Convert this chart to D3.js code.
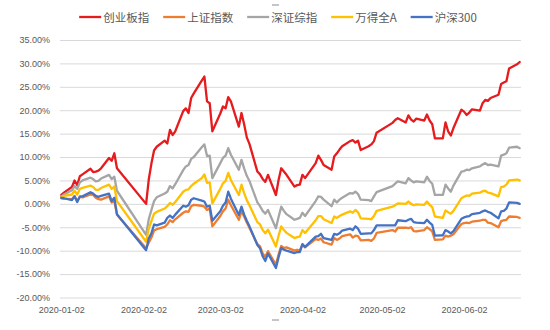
<!DOCTYPE html>
<html>
<head>
<meta charset="utf-8">
<script src="https://cdn.jsdelivr.net/npm/d3@7"></script>
<style>
  html, body { margin: 0; padding: 0; background: #ffffff; }
  svg { display: block; }
</style>
</head>
<body>
<svg id="chart" width="550" height="330"></svg>
<script>
// ---------- DATA ----------
const tradeDates = [
  "2020-01-02","2020-01-03","2020-01-06","2020-01-07","2020-01-08","2020-01-09","2020-01-10","2020-01-13","2020-01-14","2020-01-15","2020-01-16","2020-01-17","2020-01-20","2020-01-21","2020-01-22","2020-01-23",
  "2020-02-03","2020-02-04","2020-02-05","2020-02-06","2020-02-07","2020-02-10","2020-02-11","2020-02-12","2020-02-13","2020-02-14","2020-02-17","2020-02-18","2020-02-19","2020-02-20","2020-02-21","2020-02-24","2020-02-25","2020-02-26","2020-02-27","2020-02-28",
  "2020-03-02","2020-03-03","2020-03-04","2020-03-05","2020-03-06","2020-03-09","2020-03-10","2020-03-11","2020-03-12","2020-03-13","2020-03-16","2020-03-17","2020-03-18","2020-03-19","2020-03-20","2020-03-23","2020-03-24","2020-03-25","2020-03-26","2020-03-27","2020-03-30","2020-03-31",
  "2020-04-01","2020-04-02","2020-04-03","2020-04-07","2020-04-08","2020-04-09","2020-04-10","2020-04-13","2020-04-14","2020-04-15","2020-04-16","2020-04-17","2020-04-20","2020-04-21","2020-04-22","2020-04-23","2020-04-24","2020-04-27","2020-04-28","2020-04-29","2020-04-30",
  "2020-05-06","2020-05-07","2020-05-08","2020-05-11","2020-05-12","2020-05-13","2020-05-14","2020-05-15","2020-05-18","2020-05-19","2020-05-20","2020-05-21","2020-05-22","2020-05-25","2020-05-26","2020-05-27","2020-05-28","2020-05-29",
  "2020-06-01","2020-06-02","2020-06-03","2020-06-04","2020-06-05","2020-06-08","2020-06-09","2020-06-10","2020-06-11","2020-06-12","2020-06-15","2020-06-16","2020-06-17","2020-06-18","2020-06-19","2020-06-22","2020-06-23"
];

// 创业板指
const chinext = [
  1.9, 2.4, 3.6, 5.0, 4.0, 5.9, 6.3, 7.5, 6.8, 6.9, 7.1, 7.6, 9.8, 9.2, 10.8, 7.6,
  0.0, 5.2, 8.6, 11.4, 12.2, 13.5, 12.9, 15.8, 14.7, 15.5, 19.8, 20.4, 19.4, 22.6, 23.6, 26.3, 27.2, 21.9, 21.5, 15.5,
  19.3, 20.8, 20.4, 22.8, 21.9, 16.5, 19.4, 17.0, 14.2, 12.8, 6.9, 6.3, 5.3, 4.7, 6.2, 1.9, 5.1, 7.6, 6.9, 6.2, 3.7, 4.0,
  4.1, 6.2, 5.5, 8.7, 10.3, 9.4, 8.3, 7.3, 10.1, 10.8, 11.6, 12.3, 13.4, 13.6, 13.1, 13.5, 11.5, 12.3, 12.7, 13.4, 15.2,
  17.3, 17.9, 18.3, 17.4, 18.9, 18.0, 17.6, 18.2, 17.8, 19.1, 17.8, 17.0, 14.0, 14.0, 17.4, 15.5, 14.6, 16.2,
  20.1, 19.7, 19.0, 19.5, 20.2, 19.9, 21.5, 22.2, 22.0, 22.6, 23.3, 25.6, 25.9, 26.2, 28.9, 29.8, 30.3
];
// 上证指数
const sse = [
  1.2, 1.1, 1.0, 1.7, 0.6, 1.5, 1.4, 2.0, 1.9, 1.3, 1.0, 0.9, 1.6, 0.3, 0.6, -2.3,
  -9.5, -8.3, -7.2, -5.7, -5.4, -4.9, -4.4, -3.5, -3.9, -3.3, -1.9, -1.6, -1.7, -0.5, -0.2, -0.4, -0.6, -1.3, -1.0, -4.8,
  -2.6, -1.6, -1.0, 0.9, -0.3, -3.4, -1.6, -2.7, -4.0, -5.1, -8.6, -9.1, -10.6, -11.3, -10.1, -13.0, -10.8, -9.0, -9.4, -9.3, -10.0, -9.8,
  -10.0, -8.7, -9.3, -7.5, -7.7, -7.4, -8.2, -8.7, -7.3, -7.7, -7.4, -6.9, -6.5, -7.2, -6.8, -6.9, -7.8, -7.7, -7.9, -7.4, -6.2,
  -5.6, -5.9, -5.1, -5.1, -5.2, -5.0, -5.8, -5.9, -5.6, -5.0, -5.4, -5.9, -7.7, -7.6, -6.8, -7.0, -6.8, -6.5,
  -4.3, -4.1, -4.0, -4.1, -3.8, -3.6, -3.4, -3.4, -4.0, -4.1, -5.0, -3.7, -3.5, -3.4, -2.7, -2.8, -3.0
];
// 深证综指
const szComp = [
  1.6, 2.0, 2.9, 3.8, 3.2, 4.6, 5.0, 5.6, 5.3, 4.8, 4.9, 5.4, 6.2, 5.3, 5.8, 2.8,
  -6.6, -3.3, -1.3, 0.6, 1.4, 2.2, 2.6, 3.8, 3.3, 4.2, 7.2, 8.0, 8.3, 9.6, 10.0, 12.1, 12.7, 10.2, 10.3, 5.5,
  8.7, 9.8, 10.3, 11.9, 10.5, 7.3, 9.4, 7.6, 6.0, 4.9, 0.3, -0.5, -1.5, -2.1, -1.3, -5.2, -2.8, -0.6, -1.5, -2.2, -3.4, -3.2,
  -3.0, -1.9, -2.6, 0.6, 1.6, 1.5, 0.9, -0.5, 0.9, 0.3, 0.9, 1.3, 2.3, 2.2, 2.6, 2.1, 0.9, 0.8, 0.6, 1.6, 2.5,
  3.8, 4.3, 4.8, 4.4, 5.5, 5.0, 4.6, 4.8, 4.6, 5.8, 4.9, 4.3, 1.9, 1.9, 4.1, 3.3, 2.6, 3.9,
  6.9, 7.0, 7.3, 7.2, 7.6, 8.0, 8.4, 8.7, 8.3, 8.4, 8.0, 10.3, 10.5, 10.8, 12.0, 12.2, 11.9
];
// 万得全A
const windA = [
  1.5, 1.7, 2.0, 2.8, 2.0, 3.2, 3.4, 3.9, 3.6, 3.0, 3.0, 3.4, 4.1, 3.2, 3.7, 0.6,
  -8.1, -5.3, -3.7, -2.1, -1.7, -1.0, -0.5, 0.2, -0.2, 0.4, 2.6, 3.0, 3.1, 3.8, 4.3, 5.5, 6.3, 4.5, 4.6, 0.1,
  3.2, 4.4, 4.9, 6.6, 5.1, 1.9, 4.1, 2.3, 0.8, -0.3, -3.9, -4.4, -5.6, -6.3, -5.5, -9.1, -6.8, -4.8, -5.6, -6.2, -7.3, -7.1,
  -7.0, -5.6, -6.2, -3.5, -2.6, -2.6, -3.3, -4.1, -2.7, -3.0, -2.6, -2.3, -1.6, -1.9, -1.3, -1.8, -3.1, -3.2, -3.3, -2.6, -1.5,
  -0.6, -0.3, 0.1, 0.0, 0.5, 0.0, -0.3, -0.1, -0.2, 0.5, -0.2, -0.7, -2.7, -3.0, -1.4, -1.8, -2.1, -1.5,
  1.2, 1.5, 1.8, 1.7, 2.2, 2.4, 2.7, 2.8, 2.4, 2.3, 1.6, 3.6, 3.7, 4.1, 5.0, 5.2, 5.0
];
// 沪深300
const csi300 = [
  1.3, 1.2, 0.8, 1.6, 0.4, 1.6, 1.6, 2.5, 2.2, 1.7, 1.5, 1.7, 2.2, 0.6, 1.3, -2.2,
  -9.9, -7.4, -6.3, -4.4, -4.6, -4.0, -3.0, -2.5, -3.0, -2.3, -0.4, -0.6, -0.3, 0.9, 1.2, 0.7, 0.5, -0.6, -0.4, -3.6,
  -1.6, -0.4, 0.3, 2.6, 1.1, -2.4, -0.6, -2.3, -3.6, -4.8, -8.8, -9.5, -11.2, -12.2, -10.6, -13.7, -11.4, -9.4, -9.8, -10.0, -10.5, -10.3,
  -10.3, -8.6, -9.2, -7.0, -6.9, -6.4, -7.3, -7.7, -6.4, -6.6, -6.3, -5.7, -5.3, -5.6, -4.8, -5.3, -6.4, -6.3, -6.3, -5.6, -4.6,
  -4.6, -4.6, -3.5, -3.7, -3.4, -3.2, -3.9, -4.0, -4.1, -3.4, -4.0, -4.5, -6.8, -6.7, -5.6, -5.9, -6.3, -5.8,
  -3.2, -2.9, -2.7, -2.6, -2.2, -1.9, -1.6, -1.4, -1.7, -1.9, -3.1, -1.6, -1.5, -1.0, 0.3, 0.2, 0.0
];

const seriesNames = ["创业板指", "上证指数", "深证综指", "万得全A", "沪深300"];
const xTickLabels = ["2020-01-02", "2020-02-02", "2020-03-02", "2020-04-02", "2020-05-02", "2020-06-02"];
const yTickValues = [-20, -15, -10, -5, 0, 5, 10, 15, 20, 25, 30, 35];

// ---------- CHART ----------
(function () {
  const seriesValues = [chinext, sse, szComp, windA, csi300];
  const colors = ["#e61b1e", "#ed7d31", "#a5a5a5", "#ffc000", "#4472c4"];

  const parse = d3.timeParse("%Y-%m-%d");
  const dates = tradeDates.map(parse);

  const svg = d3.select("#chart");
  svg.append("rect").attr("width", 550).attr("height", 330).attr("fill", "#ffffff");

  const pLeft = 60, pRight = 521, pTop = 40, pBottom = 297.5;

  const x = d3.scaleTime()
    .domain([new Date(2020, 0, 1, 12), new Date(2020, 5, 23, 12)])
    .range([pLeft, pRight]);
  const y = d3.scaleLinear().domain([-20, 35]).range([pBottom, pTop]);

  const yAxis = d3.axisLeft(y)
    .tickValues(yTickValues)
    .tickSize(-(pRight - pLeft))
    .tickPadding(10)
    .tickFormat(d => d.toFixed(2) + "%");
  const gy = svg.append("g").attr("transform", `translate(${pLeft},0)`).call(yAxis);
  gy.select(".domain").remove();
  gy.selectAll(".tick line").attr("stroke", "#d9d9d9").attr("stroke-width", 1);
  gy.selectAll(".tick text")
    .attr("fill", "#595959")
    .attr("font-family", "'Liberation Sans', Arial, sans-serif")
    .attr("font-size", "9px");

  const xTicks = xTickLabels.map(parse);
  const xAxis = d3.axisBottom(x)
    .tickValues(xTicks)
    .tickSize(0)
    .tickPadding(9)
    .tickFormat(d3.timeFormat("%Y-%m-%d"));
  const gx = svg.append("g").attr("transform", `translate(0,${pBottom})`).call(xAxis);
  gx.select(".domain").remove();
  gx.selectAll(".tick text")
    .attr("fill", "#595959")
    .attr("font-family", "'Liberation Sans', Arial, sans-serif")
    .attr("font-size", "9px");

  const line = d3.line()
    .x((d, i) => x(dates[i]))
    .y(d => y(d));

  seriesValues.forEach((vals, k) => {
    svg.append("path")
      .datum(vals)
      .attr("fill", "none")
      .attr("stroke", colors[k])
      .attr("stroke-width", 2.3)
      .attr("stroke-linejoin", "round")
      .attr("stroke-linecap", "round")
      .attr("d", line);
  });

  const legend = svg.append("g");
  const lgY = 17;
  const items = [];
  seriesNames.forEach((name, k) => {
    const g = legend.append("g");
    g.append("line")
      .attr("x1", 0).attr("x2", 22)
      .attr("y1", lgY).attr("y2", lgY)
      .attr("stroke", colors[k]).attr("stroke-width", 2.3);
    const t = g.append("text")
      .attr("x", 24).attr("y", lgY)
      .attr("dominant-baseline", "central")
      .attr("fill", "#595959")
      .attr("font-family", "'Noto Sans CJK SC', sans-serif")
      .attr("font-size", "11.5px")
      .text(name);
    const w = 24 + t.node().getComputedTextLength();
    items.push({ g, w });
  });
  const gap = 14;
  const total = items.reduce((s, it) => s + it.w, 0) + gap * (items.length - 1);
  let cursor = 278 - total / 2;
  items.forEach(it => {
    it.g.attr("transform", `translate(${cursor},0)`);
    cursor += it.w + gap;
  });

  svg.append("line").attr("x1", 272).attr("x2", 279).attr("y1", 5).attr("y2", 5)
    .attr("stroke", "#8c8c8c").attr("stroke-width", 1);
  svg.append("line").attr("x1", 272).attr("x2", 279).attr("y1", 320).attr("y2", 320)
    .attr("stroke", "#8c8c8c").attr("stroke-width", 1);
})();
</script>
</body>
</html>
